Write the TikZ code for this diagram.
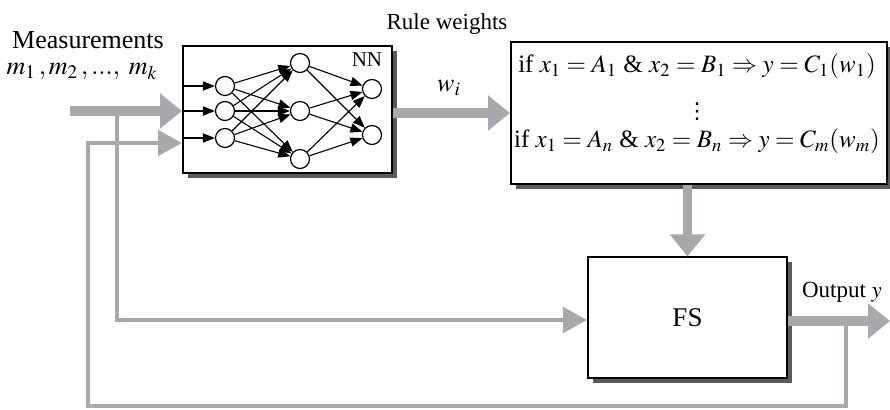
\documentclass[tikz,border=0pt]{standalone}
\usepackage{mathptmx}
\usepackage[no-math]{fontspec}
\setmainfont{Liberation Serif}
\newfontfamily\dotsfont{DejaVu Sans}
\usepackage{tikz}
\usetikzlibrary{arrows.meta, positioning, calc, shadows}
\definecolor{flowGray}{HTML}{A7A9AC}
\definecolor{shadeGray}{HTML}{5A5A5C}
\tikzset{
    box_block/.style={
        rectangle, draw=black, line width=1pt, fill=white, inner sep=0pt,
        drop shadow={shadow xshift=2.3pt, shadow yshift=-2.3pt, fill=shadeGray, opacity=1}
    },
    neuron/.style={
        circle, draw=black, line width=0.6pt, fill=white, minimum size=9.5pt, inner sep=0pt
    },
    syn_arrow/.style={
        -{Triangle[length=6pt,width=4.6pt]}, line width=0.55pt, draw=black
    },
    flow_thick/.style={
        -{Triangle[length=11pt,width=17pt]}, line width=4.8pt, draw=flowGray
    },
    flow_thin/.style={
        -{Triangle[length=12pt,width=12.5pt]}, line width=2.3pt, draw=flowGray
    },
    lbl/.style={
        font=\fontsize{11.5}{13}\selectfont, inner sep=0pt, anchor=base
    },
    lbl_big/.style={
        font=\fontsize{13}{15}\selectfont, inner sep=0pt, anchor=base
    },
    rule_line/.style={
        font=\fontsize{12.5}{15}\selectfont, inner sep=0pt, anchor=base
    }
}

\begin{document}
\begin{tikzpicture}[x=0.5pt, y=-0.5pt]
    \useasboundingbox (0,0) rectangle (890,410);

    % Row 1: Neural network, rule base
    \node[box_block, minimum width=104.5pt, minimum height=63.5pt] (nn) at (287.5,109.5) {};
    \node[box_block, minimum width=188pt, minimum height=71pt] (rules) at (699,113) {};
    \node[rule_line] (rule_first) at (697,73) {if $x_1 = A_1$ \& $x_2 = B_1 \Rightarrow y = C_1(w_1)$};
    \node[font=\dotsfont\fontsize{11}{12}\selectfont, inner sep=0pt] (rule_dots) at (697,112) {⋮};
    \node[rule_line] (rule_last) at (697,148) {if $x_1 = A_n$ \& $x_2 = B_n \Rightarrow y = C_m(w_m)$};

    % Row 2: Fuzzy system
    \node[box_block, minimum width=99.5pt, minimum height=60.5pt,
          font=\fontsize{13.5}{15}\selectfont] (fs) at (687.5,318) {FS};

    % Labels
    \node[lbl_big] (meas_lbl) at (88,49) {Measurements};
    \node[lbl_big] (meas_vars) at (82,75) {$m_1\,, m_2\,,...,\; m_k$};
    \node[lbl] (rw_lbl) at (447,30) {Rule weights};
    \node[lbl_big] (wi_lbl) at (449,92) {$w_i$};
    \node[lbl] (out_lbl) at (842,298) {Output $y$};
    \node[font=\fontsize{10.5}{12}\selectfont, inner sep=0pt, anchor=base] (nn_lbl) at (367,67) {NN};

    % Neurons inside NN
    \foreach \i/\y in {1/86, 2/111, 3/138}
        \node[neuron] (in\i) at (225,\y) {};
    \foreach \j/\y in {1/63, 2/111, 3/159}
        \node[neuron] (hid\j) at (300,\y) {};
    \foreach \k/\y in {1/89, 2/135}
        \node[neuron] (out\k) at (372,\y) {};

    \foreach \i in {1,2,3}
        \draw[syn_arrow] (nn.west |- in\i) -- (in\i);
    \foreach \i in {1,2,3}
        \foreach \j in {1,2,3}
            \draw[syn_arrow] (in\i) -- (hid\j);
    \foreach \j in {1,2,3}
        \foreach \k in {1,2}
            \draw[syn_arrow] (hid\j) -- (out\k);

    % Flow connectors
    \coordinate (meas_src) at (70,111);
    \coordinate (meas_tap) at (117,111);
    \coordinate (out_end) at (890,321);
    \coordinate (fb_tap) at (846,321);
    \coordinate (fb_corner) at (88,406);
    \coordinate (fb_in) at (88,143);

    % Measurements -> NN, and branch -> FS
    \draw[flow_thick] (meas_src) -- (nn.west |- meas_src);
    \draw[flow_thin] (meas_tap) |- (fs.west |- 0,320);

    % NN -> rule base -> FS
    \draw[flow_thick] (nn.east |- rules.west) -- (rules.west);
    \draw[flow_thick] (fs.north |- rules.south) -- (fs.north);

    % FS -> output, and feedback -> NN
    \draw[flow_thick] (fs.east |- out_end) -- (out_end);
    \draw[flow_thin] (fb_tap) |- (fb_corner) -- (fb_in) -- (nn.west |- fb_in);
\end{tikzpicture}
\end{document}
